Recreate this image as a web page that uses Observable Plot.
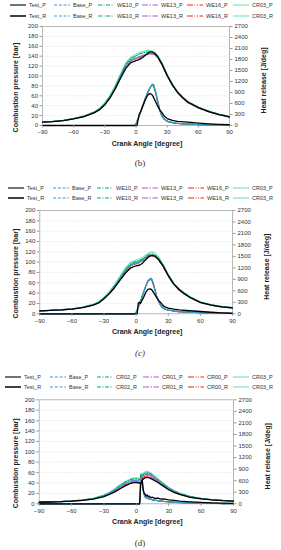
<!DOCTYPE html>
<html><head><meta charset="utf-8">
<script src="https://cdn.jsdelivr.net/npm/d3@7"></script>
<script src="https://cdn.jsdelivr.net/npm/@observablehq/plot@0.6"></script>
<style>
body{margin:0;background:#fff;}
#root{position:relative;width:281px;height:550px;overflow:hidden;font-family:"Liberation Sans",Arial,sans-serif;}
.item{position:absolute;height:8px;display:flex;align-items:center;font-size:5.5px;color:#333;white-space:nowrap;transform:translateY(-50%);}
.item svg{margin-right:3px;}
.cap{position:absolute;font-family:"Liberation Serif",serif;font-size:9px;color:#333;transform:translate(-50%,-50%);}
.panel{position:absolute;left:0;}
</style></head><body><div id="root"></div><script>
// ---------- tick labels ----------
const ticksX = [-90, -60, -30, 0, 30, 60, 90];
const ticksP = [0, 20, 40, 60, 80, 100, 120, 140, 160, 180, 200];
const ticksH = [0, 300, 600, 900, 1200, 1500, 1800, 2100, 2400, 2700];

// ---------- series names ----------
const namesBC = ["Test", "Base", "WE10", "WE13", "WE16", "CR03"];
const namesD = ["Test", "Base", "CR02", "CR01", "CR00", "CR03"];

// ---------- panel (b) ----------
const b_angP = [-90,-80,-70,-60,-50,-40,-35,-30,-25,-20,-15,-10,-5,0,3,6,9,12,15,18,21,25,30,35,40,45,50,60,70,80,90];
const b_Test_P = [7,8,10,13.5,18,26,32,42,56,74,95,115,127,131,133,137,142,147,149,146,139,124,101,82,67,56,47,36,28,22,17.5];
const b_Base_P = [7,8.2,10.2,13.8,18.5,26.5,33,43,57,76,98,119,132,137,139,141,143,145,145.5,143,137,123,101,82,67,56,47,36,28,22,17.5];
const b_WE10_P = [7,8.2,10.3,14,19,27,34,44,59,78,101,123,135,141,144,146,148,149,149,146,139,125,102,83,68,57,48,37,29,22.5,18];
const b_WE13_P = [7,8.1,10.1,13.7,18.4,26.3,33,43,57,76,98,119,132,136,138,141,143,145,146,144,138,124,101,82,67,56,47,36,28,22,17.5];
const b_WE16_P = [7,8,10,13.6,18.2,26,32.5,42.5,56,75,97,118,131,135,137,140,142,144,145,143,137,123,100,81,66,55,46,35.5,27.5,21.5,17];
const b_CR03_P = [7.2,8.5,10.6,14.3,19.5,28,35,46,61,81,104,126,138,144,147,149,151,152,151,148,141,127,104,84,69,58,49,37.5,29,23,18.5];
const b_angR = [-90,-60,-30,-5,-1,0,1,2,3,5,7,9,11,13,15,16,17,19,21,23,25,27,30,35,40,50,60,70,80,90];
const b_Test_R = [0,0,0,0,0,0,0,150,300,420,560,700,820,870,850,820,760,640,520,420,350,260,190,140,115,90,65,45,30,20];
const b_Base_R = [0,0,0,0,0,40,100,170,250,400,570,730,880,1000,1100,1135,1120,920,660,420,270,180,120,80,60,40,25,15,10,5];
const b_WE10_R = [0,0,0,0,0,45,110,180,260,410,580,740,890,1010,1100,1120,1100,900,640,410,260,175,115,78,58,38,24,14,9,5];
const b_WE13_R = [0,0,0,0,0,40,105,175,255,405,575,735,885,1005,1095,1125,1105,910,650,415,265,178,118,79,59,39,24,15,10,5];
const b_WE16_R = [0,0,0,0,0,50,120,190,270,420,590,750,890,1000,1080,1100,1080,880,630,400,255,170,112,76,57,38,23,14,9,5];
const b_CR03_R = [0,0,0,0,0,50,115,185,265,415,585,745,890,1000,1080,1090,1060,860,610,390,250,168,110,75,56,37,23,14,9,5];

// ---------- panel (c) ----------
const c_angP = [-90,-80,-70,-60,-50,-40,-35,-30,-25,-20,-15,-10,-5,0,3,6,9,12,15,18,21,25,30,35,40,45,50,60,70,80,90];
const c_Test_P = [5.5,6.5,7.5,9,12,17,21,29,39,51,65,79,89,93,94,98,105,111,113,111,105,93,74,58,47,39,32,22,17,13.5,11.5];
const c_Base_P = [5.5,6.6,7.7,9.2,12.3,17.5,22,30,40,53,68,83,94,98,100,103,108,112,113.5,111,105,93,74,58,47,39,32,22,17,13.5,11.5];
const c_WE10_P = [5.6,6.7,7.8,9.4,12.6,18,22.5,31,41,55,70,86,97,101,103,106,111,115,116,113,107,95,75,59,48,40,33,22.5,17.5,14,12];
const c_WE13_P = [5.5,6.6,7.7,9.2,12.4,17.6,22,30,40,53,68,84,95,99,101,104,109,113,114,112,106,94,74,58,47,39,32,22,17,13.5,11.5];
const c_WE16_P = [5.5,6.5,7.6,9.1,12.2,17.3,21.5,29.5,39.5,52,67,82,93,97,99,102,107,111,112,110,104,92,73,57,46,38,31.5,21.5,16.5,13,11];
const c_CR03_P = [5.7,6.9,8,9.7,13,18.6,23.5,32,43,57,73,89,100,104,106,109,114,118,120,117,110,97,77,60,49,41,34,23,18,14.5,12.5];
const c_angR = [-90,-60,-30,-5,-1,0,1,2,3,4,5,7,9,11,13,14,15,17,19,21,23,25,27,30,35,40,50,60,70,80,90];
const c_Test_R = [0,0,0,0,0,0,0,280,300,270,330,430,560,640,650,640,610,520,430,350,290,220,180,150,120,100,80,60,40,25,15];
const c_Base_R = [0,0,0,0,0,30,100,170,240,320,400,560,720,860,920,925,890,700,480,330,220,160,125,100,75,58,42,30,20,13,8];
const c_WE10_R = [0,0,0,0,0,35,105,175,245,325,405,565,725,860,915,915,875,690,470,320,215,155,120,97,73,56,40,29,19,12,8];
const c_WE13_R = [0,0,0,0,0,30,100,170,240,320,400,560,720,855,915,920,885,695,475,325,218,158,122,98,74,57,41,29,19,12,8];
const c_WE16_R = [0,0,0,0,0,40,110,180,250,330,410,570,725,850,900,900,860,680,465,320,215,155,120,96,72,55,40,28,18,12,8];
const c_CR03_R = [0,0,0,0,0,40,110,180,250,330,410,565,720,845,895,890,850,670,455,315,210,150,118,95,71,54,39,28,18,12,7];

// ---------- panel (d) ----------
const d_angP = [-90,-80,-70,-60,-50,-40,-30,-25,-20,-15,-10,-5,-2,0,2,3,4,5,6,8,10,12,15,20,25,30,35,40,50,60,70,80,90];
const d_Test_P = [3,3.5,4,5,6.5,9,14,18,23,29,35,39.5,41,41,40.5,39.5,38,44,47,50,51,50,47,41,34,27,22,18,12.5,9.5,7.5,6,5];
const d_Base_P = [3,3.6,4.2,5.2,7,9.8,15.5,20,26,33,39.5,44,45.5,45.5,45,44,43,50,54,57,58,57,53,45.5,37,30,24,19.5,13.5,10,8,6.5,5.5];
const d_CR02_P = [3,3.7,4.3,5.4,7.2,10.2,16.3,21,27.5,35,42,46.5,48,48,47.5,46.5,45.5,52,56,59,60,59,55,47,38.5,31,25,20,14,10.5,8,6.5,5.5];
const d_CR01_P = [3,3.6,4.2,5.2,6.9,9.6,15.2,19.7,25.5,32.5,39,43,44.5,44.5,44,43,42,49,53,56,57,56,52,44.5,36,29,23.5,19,13.2,10,7.8,6.3,5.3];
const d_CR00_P = [3,3.5,4.1,5.1,6.7,9.3,14.5,18.8,24,30.5,36.5,40.5,42,42,41.5,40.5,39.5,46,50,53,54,53,50,43,35,28,22.5,18.5,12.8,9.7,7.6,6.1,5.1];
const d_CR03_P = [3.1,3.8,4.4,5.6,7.5,10.6,17,22,29,36.5,43.5,48.5,50,50,49.5,48.5,47,54,58,61.5,62.5,61,57,48,39,31.5,25.5,20.5,14.3,10.7,8.2,6.6,5.6];
const d_angR = [-90,-30,0,2,3,3.5,4,4.5,5,5.5,6,7,8,9,10,11,12,13,15,17,20,23,25,30,35,40,50,60,70,80,90];
const d_Test_R = [0,0,0,0,0,250,600,720,740,620,420,290,250,200,230,180,200,160,170,140,150,120,130,100,90,70,50,35,25,18,12];
const d_Base_R = [0,0,0,0,0,150,550,760,720,560,400,260,190,160,145,135,125,118,105,95,82,70,63,50,40,32,22,14,9,6,4];
const d_CR02_R = [0,0,0,0,0,170,570,770,710,550,390,255,185,158,143,133,123,116,103,93,80,69,62,49,39,31,21,14,9,6,4];
const d_CR01_R = [0,0,0,0,0,140,530,750,730,570,410,265,195,163,148,137,127,120,106,96,83,71,64,51,41,32,22,14,9,6,4];
const d_CR00_R = [0,0,0,0,0,120,500,730,740,590,420,270,200,166,150,139,129,121,108,97,84,72,65,52,42,33,23,15,10,6,4];
const d_CR03_R = [0,0,0,0,0,190,590,780,700,540,380,250,180,155,140,130,120,113,100,90,78,67,60,48,38,30,20,13,8,5,3];

// ---------- styles ----------
const colors = ["#000000", "#3f97e4", "#00b050", "#a05fd8", "#ff1a1a", "#6fe3b2"];
const dashes = [null, "3,1.8", "4,1.5,1,1.5", "6,1.5,1.5,1.5", "6,1.5,1,1.5,1,1.5", null];

const panels = [
  {names: namesBC, angP: b_angP, P: [b_Test_P,b_Base_P,b_WE10_P,b_WE13_P,b_WE16_P,b_CR03_P],
   angR: b_angR, R: [b_Test_R,b_Base_R,b_WE10_R,b_WE13_R,b_WE16_R,b_CR03_R],
   top: 20, h: 130, ml: 42, mr: 52, mt: 6, mb: 25, leg: [5.3, 15.7], legX: [10,54,98,142,187,233], cap: "(b)", capY: 163},
  {names: namesBC, angP: c_angP, P: [c_Test_P,c_Base_P,c_WE10_P,c_WE13_P,c_WE16_P,c_CR03_P],
   angR: c_angR, R: [c_Test_R,c_Base_R,c_WE10_R,c_WE13_R,c_WE16_R,c_CR03_R],
   top: 204, h: 134, ml: 39.3, mr: 49, mt: 6, mb: 24.7, leg: [188.3, 198.3], legX: [8,53,97,142,188,233], cap: "(c)", capY: 352.7, italic: true},
  {names: namesD, angP: d_angP, P: [d_Test_P,d_Base_P,d_CR02_P,d_CR01_P,d_CR00_P,d_CR03_P],
   angR: d_angR, R: [d_Test_R,d_Base_R,d_CR02_R,d_CR01_R,d_CR00_R,d_CR03_R],
   top: 393, h: 136, ml: 38.7, mr: 48, mt: 6.3, mb: 25.7, leg: [376.7, 387.3], legX: [5,50,97,143,188,233], cap: "(d)", capY: 542.7}
];

const root = document.getElementById("root");
const k = 200 / 2700;

for (const p of panels) {
  const marks = [
    Plot.ruleY(ticksP.slice(1, -1), {stroke: "#cfcfcf", strokeDasharray: "1,1.5", strokeWidth: 0.6}),
    Plot.frame({stroke: "#a6a6a6", strokeWidth: 0.8})
  ];
  for (let i = p.names.length - 1; i >= 0; i--) {
    const rows = p.angR.map((a, j) => ({a, v: p.R[i][j]}));
    marks.push(Plot.line(rows, {x: "a", y: d => d.v * k, stroke: colors[i], strokeDasharray: dashes[i], strokeWidth: i === 0 ? 1.3 : 1.15}));
  }
  for (let i = p.names.length - 1; i >= 0; i--) {
    const rows = p.angP.map((a, j) => ({a, v: p.P[i][j]}));
    marks.push(Plot.line(rows, {x: "a", y: "v", stroke: colors[i], strokeDasharray: dashes[i], strokeWidth: i === 0 ? 1.3 : 1.15}));
  }
  const titleStyle = {text: d => d, textAnchor: "middle", lineAnchor: "middle", fontSize: 7, fontWeight: "bold", fill: "#222"};
  marks.push(
    Plot.axisX(ticksX, {tickSize: 2.5, tickPadding: 2, fontSize: 6, stroke: "#999", color: "#333", label: null}),
    Plot.axisY(ticksP, {anchor: "left", tickSize: 2.5, tickPadding: 2, fontSize: 6, stroke: "#999", color: "#333", label: null}),
    Plot.axisY(ticksH.map(h => h * k), {anchor: "right", tickSize: 2.5, tickPadding: 2.5, fontSize: 6, stroke: "#999", color: "#333", label: null, tickFormat: d => String(Math.round(d / k))}),
    Plot.text(["Crank Angle [degree]"], {...titleStyle, frameAnchor: "bottom", dx: 11, dy: 18}),
    Plot.text(["Combustion pressure [bar]"], {...titleStyle, frameAnchor: "left", rotate: -90, dx: 15 - p.ml, dy: 11.5}),
    Plot.text(["Heat release [J/deg]"], {...titleStyle, frameAnchor: "right", rotate: -90, dx: 34, dy: 4.5})
  );
  const svg = Plot.plot({
    width: 281, height: p.h,
    marginLeft: p.ml, marginRight: p.mr, marginTop: p.mt, marginBottom: p.mb,
    x: {domain: [-90, 90], axis: null},
    y: {domain: [0, 200], axis: null},
    style: {fontFamily: "Liberation Sans, Arial, sans-serif", background: "transparent", overflow: "visible"},
    marks
  });
  svg.classList.add("panel");
  svg.style.top = p.top + "px";
  root.appendChild(svg);

  // legend
  ["_P", "_R"].forEach((suf, r) => {
    p.names.forEach((n, i) => {
      const item = document.createElement("div");
      item.className = "item";
      item.style.left = p.legX[i] + "px";
      item.style.top = p.leg[r] + "px";
      const sw = r === 1 && i === 0 ? 1.5 : 1.1;
      item.innerHTML = `<svg width="16" height="4"><line x1="0" y1="2" x2="16" y2="2" stroke="${colors[i]}" stroke-width="${sw}" ${dashes[i] ? `stroke-dasharray="${dashes[i]}"` : ""}/></svg><span>${n + suf}</span>`;
      root.appendChild(item);
    });
  });
  const cap = document.createElement("div");
  cap.className = "cap";
  cap.style.left = "140px";
  cap.style.top = p.capY + "px";
  if (p.italic) cap.style.fontStyle = "italic";
  cap.textContent = p.cap;
  root.appendChild(cap);
}
</script></body></html>
